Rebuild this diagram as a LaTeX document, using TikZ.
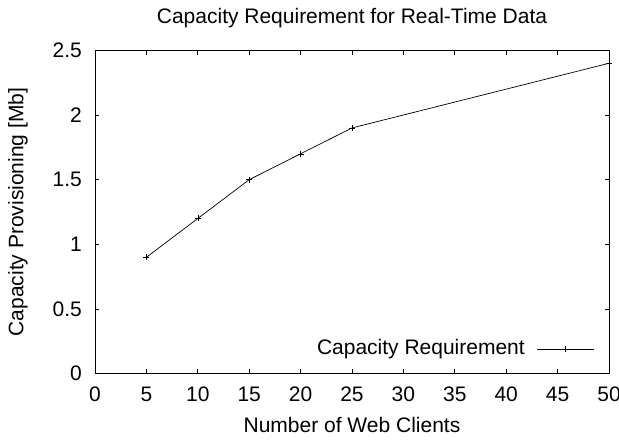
\documentclass[tikz,border=0pt]{standalone}
\usepackage{fontspec}
\setmainfont{Liberation Sans}
\begin{document}
\begin{tikzpicture}[x=10.28pt,y=129.35pt,
  lbl/.style={font=\fontsize{21}{25}\selectfont, inner sep=0pt},
  axisbox/.style={line width=0.9pt},
  tickline/.style={line width=0.7pt},
  dataline/.style={line width=0.7pt},
  pmark/.style={line width=0.6pt}]
\useasboundingbox (-95pt,-66.3pt) rectangle (524pt,373.7pt);
% ticks
\foreach \t in {5,10,...,45}{
  \draw[tickline] (\t,0) -- ++(0,4.5pt);
  \draw[tickline] (\t,2.5) -- ++(0,-4.5pt);
}
\foreach \t in {0,5,...,50}{
  \node[lbl] (xl\t) at (\t,0) [yshift=-21pt] {\t};
}
\foreach \v in {0.5,1,1.5,2}{
  \draw[tickline] (0,\v) -- ++(4.5pt,0);
  \draw[tickline] (50,\v) -- ++(-4.5pt,0);
}
\foreach \v/\s in {0/0,0.5/0.5,1/1,1.5/1.5,2/2,2.5/2.5}{
  \node[lbl, anchor=east] (yl\s) at (0,\v) [xshift=-13pt] {\s};
}
\draw[axisbox] (0,0) rectangle (50,2.5);
% data
\draw[dataline] (5,0.9) -- (10,1.2) -- (15,1.5) -- (20,1.7) -- (25,1.9) -- (50,2.4);
\foreach \px/\py in {5/0.9,10/1.2,15/1.5,20/1.7,25/1.9,50/2.4}{
  \draw[pmark] (\px,\py) ++(-3pt,0) -- ++(6pt,0);
  \draw[pmark] (\px,\py) ++(0,-3pt) -- ++(0,6pt);
}
% legend
\node[lbl, anchor=east] (legtext) at (0,0) [xshift=430pt, yshift=24.7pt] {Capacity Requirement};
\coordinate (legA) at ([xshift=12pt]legtext.east);
\coordinate (legB) at ([xshift=69pt]legtext.east);
\coordinate (legM) at ([xshift=40.7pt]legtext.east);
\draw[dataline] (legA) -- (legB);
\draw[pmark] (legM) ++(-3pt,0) -- ++(6pt,0);
\draw[pmark] (legM) ++(0,-3pt) -- ++(0,6pt);
% titles
\node[lbl] (title) at (25,2.5) [yshift=32pt] {Capacity Requirement for Real-Time Data};
\node[lbl] (xlabel) at (25,0) [yshift=-51pt] {Number of Web Clients};
\node[lbl, rotate=90] (ylabel) at (-7.49,1.25) {Capacity Provisioning [Mb]};
\end{tikzpicture}
\end{document}
